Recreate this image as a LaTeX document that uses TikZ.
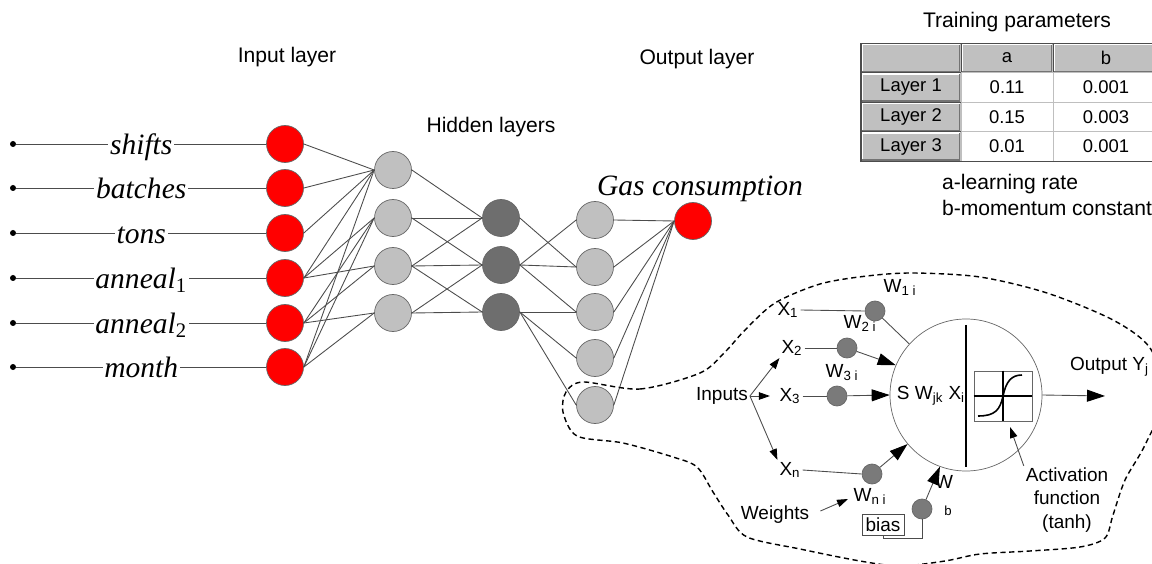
\documentclass[tikz,border=0pt]{standalone}
\usepackage{fontspec}
\setmainfont{Liberation Sans}
\newfontfamily\serifit{Liberation Serif}
\usetikzlibrary{arrows.meta, positioning}
\definecolor{inred}{HTML}{FF0000}
\definecolor{hidlight}{HTML}{C0C0C0}
\definecolor{hiddark}{HTML}{6E6E6E}
\definecolor{wgray}{HTML}{7A7A7A}
\definecolor{btngray}{HTML}{C0C0C0}
\tikzset{
	neuron/.style={circle, draw=black!60, minimum size=7.4mm, inner sep=0pt},
	inputn/.style={neuron, fill=inred},
	hidden/.style={neuron, fill=hidlight},
	hiddenk/.style={neuron, fill=hiddark},
	wnode/.style={circle, draw=black!60, fill=wgray, minimum size=4mm, inner sep=0pt},
	dot/.style={circle, fill=black, minimum size=1.2mm, inner sep=0pt},
	conn/.style={draw=black!70, line width=0.5pt},
	feat/.style={fill=white, inner sep=1pt, text height=11.5pt, text depth=0pt, font=\fontsize{16.8}{18}\selectfont\serifit\itshape},
	layertitle/.style={inner sep=1pt, font=\fontsize{12}{14}\selectfont},
	lbl/.style={inner sep=1pt, font=\fontsize{10.8}{13.2}\selectfont},
	bigarrow/.style={conn, -{Triangle[length=3.6mm, width=2.4mm, color=black]}},
	smallarrow/.style={conn, -{Triangle[length=2.2mm, width=1.5mm, color=black]}},
	cellbase/.style={minimum height=5.9mm, inner sep=0pt, font=\fontsize{10.5}{12}\selectfont},
	hcell/.style={cellbase, draw=black!70, fill=btngray,
		path picture={
			\draw[white, line width=0.8pt] ([shift={(0.8pt,0.8pt)}]path picture bounding box.south west) |- ([shift={(-0.8pt,-0.8pt)}]path picture bounding box.north east);
			\draw[black!55, line width=0.8pt] ([shift={(0.8pt,0.8pt)}]path picture bounding box.south west) -| ([shift={(-0.8pt,-0.8pt)}]path picture bounding box.north east);
		}},
	dcell/.style={cellbase, draw=black!25, fill=white}
}

\begin{document}
\begin{tikzpicture}[x=0.2mm, y=-0.2mm]
\path[use as bounding box, clip] (0,0) rectangle (1152,564);

\node (inlayer) [layertitle] at (287,57) {Input layer};
\node (hidlayer) [layertitle] at (491,127) {Hidden layers};
\node (outlayer) [layertitle] at (697,59) {Output layer};

\node (shifts) [inputn] at (285,144) {};
\node (batches) [inputn] at (285,188) {};
\node (tons) [inputn] at (285,233) {};
\node (anna) [inputn] at (285,278) {};
\node (annb) [inputn] at (285,323) {};
\node (month) [inputn] at (285,367) {};
\node (d1) [dot] at (13,144) {};
\node (d2) [dot] at (13,188) {};
\node (d3) [dot] at (13,233) {};
\node (d4) [dot] at (13,278) {};
\node (d5) [dot] at (13,323) {};
\node (d6) [dot] at (13,367) {};
\draw[conn] (d1) -- node[feat] {shifts} (shifts.west);
\draw[conn] (d2) -- node[feat] {batches} (batches.west);
\draw[conn] (d3) -- node[feat] {tons} (tons.west);
\draw[conn] (d4) -- node[feat] {anneal\textsubscript{\upshape 1}} (anna.west);
\draw[conn] (d5) -- node[feat] {anneal\textsubscript{\upshape 2}} (annb.west);
\draw[conn] (d6) -- node[feat] {month} (month.west);

\node (h11) [hidden] at (393,170) {};
\node (h12) [hidden] at (393,218) {};
\node (h13) [hidden] at (393,266) {};
\node (h14) [hidden] at (393,313) {};
\node (h21) [hiddenk] at (501,218) {};
\node (h22) [hiddenk] at (501,265) {};
\node (h23) [hiddenk] at (501,312) {};
\node (h31) [hidden] at (595,220) {};
\node (h32) [hidden] at (595,267) {};
\node (h33) [hidden] at (595,312) {};
\node (h34) [hidden] at (595,358) {};
\node (h35) [hidden] at (595,405) {};
\node (gasout) [inputn] at (693,221) {};
\node (gas) [feat, fill=none] at (700,185) {Gas consumption};

\draw[conn] (shifts.east) -- (h11.west); \draw[conn] (batches.east) -- (h11.west);
\draw[conn] (tons.east) -- (h11.west); \draw[conn] (anna.east) -- (h11.west);
\draw[conn] (anna.east) -- (h12.west); \draw[conn] (anna.east) -- (h13.west);
\draw[conn] (annb.east) -- (h12.west); \draw[conn] (annb.east) -- (h13.west);
\draw[conn] (annb.east) -- (h14.west); \draw[conn] (month.east) -- (h11.west);
\draw[conn] (month.east) -- (h12.west); \draw[conn] (month.east) -- (h14.west);

\draw[conn] (h11.east) -- (h21.west); \draw[conn] (h12.east) -- (h21.west);
\draw[conn] (h12.east) -- (h22.west); \draw[conn] (h13.east) -- (h21.west);
\draw[conn] (h13.east) -- (h22.west); \draw[conn] (h13.east) -- (h23.west);
\draw[conn] (h14.east) -- (h22.west); \draw[conn] (h14.east) -- (h23.west);

\draw[conn] (h21.east) -- (h32.west); \draw[conn] (h22.east) -- (h31.west);
\draw[conn] (h22.east) -- (h32.west); \draw[conn] (h22.east) -- (h33.west);
\draw[conn] (h23.east) -- (h33.west); \draw[conn] (h23.east) -- (h34.west);
\draw[conn] (h23.east) -- (h35.west);

\draw[conn] (h31.east) -- (gasout.west); \draw[conn] (h32.east) -- (gasout.west);
\draw[conn] (h33.east) -- (gasout.west); \draw[conn] (h34.east) -- (gasout.west);
\draw[conn] (h35.east) -- (gasout.west);

\node (title) [layertitle] at (1017,22) {Training parameters};
\node (c00) [hcell, minimum width=20mm] at (911,58) {};
\node (ca) [hcell, minimum width=18.4mm] at (1007,58) {a};
\node (cb) [hcell, minimum width=21.2mm] at (1106,58) {b};
\node (l1) [hcell, minimum width=20mm] at (911,87.5) {Layer 1};
\node (a1) [dcell, minimum width=18.4mm] at (1007,87.5) {0.11};
\node (b1) [dcell, minimum width=21.2mm] at (1106,87.5) {0.001};
\node (l2) [hcell, minimum width=20mm] at (911,117) {Layer 2};
\node (a2) [dcell, minimum width=18.4mm] at (1007,117) {0.15};
\node (b2) [dcell, minimum width=21.2mm] at (1106,117) {0.003};
\node (l3) [hcell, minimum width=20mm] at (911,146.5) {Layer 3};
\node (a3) [dcell, minimum width=18.4mm] at (1007,146.5) {0.01};
\node (b3) [dcell, minimum width=21.2mm] at (1106,146.5) {0.001};
\draw[black!70] (c00.north west) rectangle (b3.south east);
\node (lega) [layertitle, anchor=west] at (940,184) {a-learning rate};
\node (legb) [layertitle, anchor=west] at (940,208) {b-momentum constant};

\node (sum) [circle, draw=black!60, minimum size=30.4mm, inner sep=0pt] at (966,395) {};
\draw[line width=1.2pt] (966,325) -- (966,467);
\node (sumtext) [lbl] at (931,396) {S W\textsubscript{jk} X\textsubscript{i}};
\node (act) [draw=black!60, minimum width=11.6mm, minimum height=10mm, inner sep=0pt] at (1003,396) {};
\draw[line width=0.9pt] (act.north) -- (act.south);
\draw[line width=0.9pt] (act.west) -- (act.east);
\draw[line width=0.9pt] (978,416) .. controls (995,416) and (1000,410) .. (1003,396) .. controls (1006,382) and (1011,375) .. (1022,375);
\coordinate (outtip) at (1105,396);
\draw[bigarrow] (sum.east) -- (outtip);
\node (output) [lbl, anchor=west] at (1068,367) {Output Y\textsubscript{j}};
\node (actlbl) [lbl, align=center] at (1067,500) {Activation\\function\\(tanh)};
\coordinate (acttip) at (1010,427);
\draw[smallarrow] (actlbl.north west) -- (acttip);

\node (inputs) [lbl] at (722,396) {Inputs};
\node (x1) [lbl] at (788,310) {X\textsubscript{1}};
\node (x2) [lbl] at (792,348) {X\textsubscript{2}};
\node (x3) [lbl] at (790,396) {X\textsubscript{3}};
\node (xn) [lbl] at (790,470) {X\textsubscript{n}};
\draw[smallarrow] (inputs.east) -- (x2.south west);
\draw[smallarrow, shorten >=1.5mm] (inputs.east) -- (x3.west);
\draw[smallarrow] (inputs.east) -- (xn.north west);

\node (w1) [wnode] at (875,311) {};
\node (w2) [wnode] at (847,348) {};
\node (w3) [wnode] at (837,396) {};
\node (wn) [wnode] at (872,474) {};
\node (wb) [wnode] at (922,509) {};
\node (w1lbl) [lbl] at (900,287) {W\textsubscript{1 i}};
\node (w2lbl) [lbl] at (860,323) {W\textsubscript{2 i}};
\node (w3lbl) [lbl] at (842,373) {W\textsubscript{3 i}};
\node (wnlbl) [lbl] at (870,496) {W\textsubscript{n i}};
\node (wblbl) [lbl] at (944,482) {W};
\node (wbsub) [inner sep=1pt, font=\fontsize{7.5}{9}\selectfont] at (948,511) {b};
\draw[conn] (x1.east) -- (w1.west); \draw[conn] (w1) -- (sum.138);
\draw[conn] (x2.east) -- (w2.west); \draw[bigarrow] (w2) -- (sum.157);
\draw[conn] (x3.east) -- (w3.west); \draw[bigarrow] (w3) -- (sum.west);
\draw[conn] (xn.east) -- (wn.west); \draw[bigarrow] (wn) -- (sum.220);
\draw[bigarrow] (wb) -- (sum.250);
\node (bias) [lbl, draw=black!70, inner sep=2pt] at (883,525) {bias};
\draw[conn] (bias.south) -- ++(0,3) -| (wb.south);
\node (weights) [lbl] at (775,515) {Weights};
\coordinate (wtip) at (848,499);
\draw[smallarrow, shorten <=2mm] (weights.east) -- (wtip);

\draw[densely dashed, line width=0.8pt] plot[smooth cycle] coordinates {(583,382) (640,389) (700,373) (725,352) (745,330) (775,303) (820,284) (867,276) (913,273) (980,277) (1047,293) (1113,320) (1150,348) (1165,395) (1145,445) (1125,480) (1113,515) (1105,538) (1080,547) (1030,551) (980,554) (945,561) (900,566) (860,561) (800,549) (747,537) (728,515) (713,492) (697,467) (673,457) (623,443) (577,436) (563,412) (566,392)};
\end{tikzpicture}
\end{document}
